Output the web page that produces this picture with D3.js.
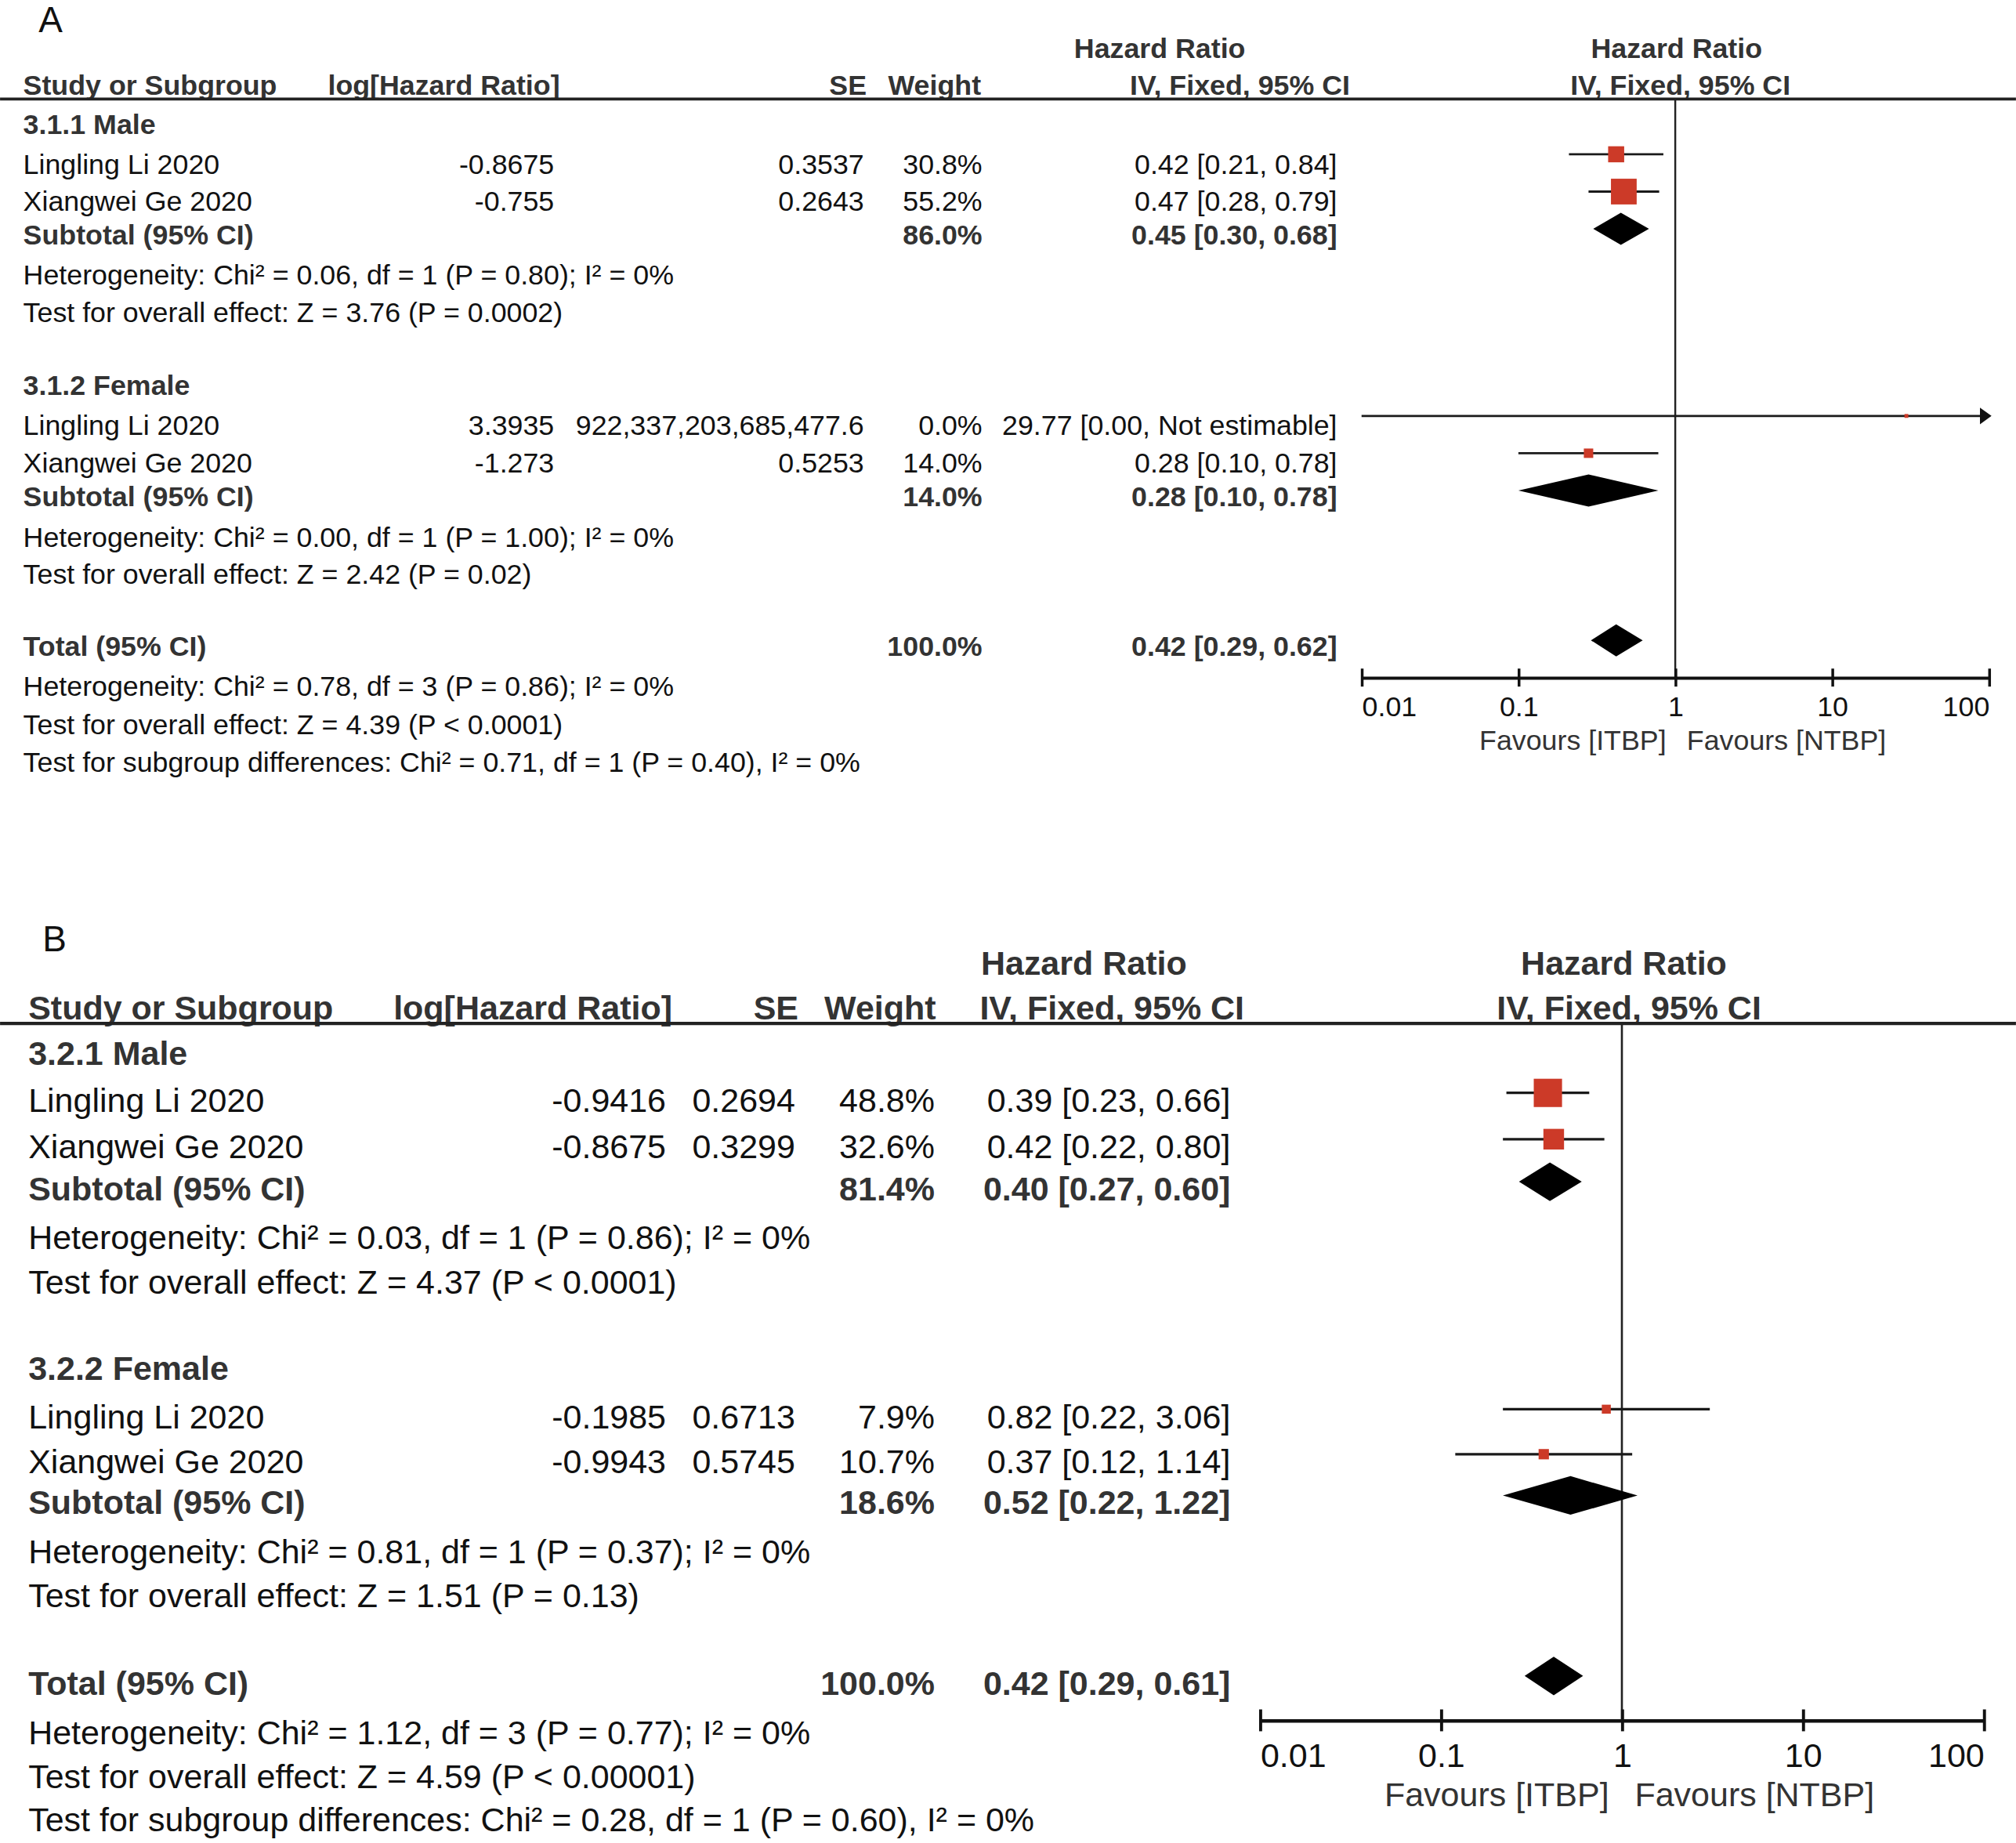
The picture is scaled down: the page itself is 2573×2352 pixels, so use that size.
<!DOCTYPE html>
<html>
<head>
<meta charset="utf-8">
<script src="https://cdn.jsdelivr.net/npm/d3@7"></script>
<style>
body { margin: 0; background: #fff; }
</style>
</head>
<body>
<div id="chart"></div>
<script>
// shared labels
var ticks = [0.01, 0.1, 1, 10, 100];
var tickLabels = ["0.01", "0.1", "1", "10", "100"];
var favours = ["Favours [ITBP]", "Favours [NTBP]"];
var headers = ["Study or Subgroup", "log[Hazard Ratio]", "SE", "Weight", "Hazard Ratio", "IV, Fixed, 95% CI"];

// panel A
var aGroups = ["3.1.1 Male", "3.1.2 Female"];
var aStudies = ["Lingling Li 2020", "Xiangwei Ge 2020", "Lingling Li 2020", "Xiangwei Ge 2020"];
var aStudyGroup = [0, 0, 1, 1];
var aLogHR = ["-0.8675", "-0.755", "3.3935", "-1.273"];
var aSE = ["0.3537", "0.2643", "922,337,203,685,477.6", "0.5253"];
var aWeight = [30.8, 55.2, 0.0, 14.0];
var aHR = [0.42, 0.47, 29.77, 0.28];
var aLow = [0.21, 0.28, 0.00, 0.10];
var aHigh = [0.84, 0.79, Infinity, 0.78]; // Infinity = not estimable
var aSubWeight = [86.0, 14.0];
var aSubHR = [0.45, 0.28];
var aSubLow = [0.30, 0.10];
var aSubHigh = [0.68, 0.78];
var aTotal = [0.42, 0.29, 0.62];
var aSubStats = [
    ["Heterogeneity: Chi² = 0.06, df = 1 (P = 0.80); I² = 0%", "Test for overall effect: Z = 3.76 (P = 0.0002)"],
    ["Heterogeneity: Chi² = 0.00, df = 1 (P = 1.00); I² = 0%", "Test for overall effect: Z = 2.42 (P = 0.02)"]
];
var aTotalStats = [
    "Heterogeneity: Chi² = 0.78, df = 3 (P = 0.86); I² = 0%",
    "Test for overall effect: Z = 4.39 (P < 0.0001)",
    "Test for subgroup differences: Chi² = 0.71, df = 1 (P = 0.40), I² = 0%"
];

// panel B
var bGroups = ["3.2.1 Male", "3.2.2 Female"];
var bStudies = ["Lingling Li 2020", "Xiangwei Ge 2020", "Lingling Li 2020", "Xiangwei Ge 2020"];
var bStudyGroup = [0, 0, 1, 1];
var bLogHR = ["-0.9416", "-0.8675", "-0.1985", "-0.9943"];
var bSE = ["0.2694", "0.3299", "0.6713", "0.5745"];
var bWeight = [48.8, 32.6, 7.9, 10.7];
var bHR = [0.39, 0.42, 0.82, 0.37];
var bLow = [0.23, 0.22, 0.22, 0.12];
var bHigh = [0.66, 0.80, 3.06, 1.14];
var bSubWeight = [81.4, 18.6];
var bSubHR = [0.40, 0.52];
var bSubLow = [0.27, 0.22];
var bSubHigh = [0.60, 1.22];
var bTotal = [0.42, 0.29, 0.61];
var bSubStats = [
    ["Heterogeneity: Chi² = 0.03, df = 1 (P = 0.86); I² = 0%", "Test for overall effect: Z = 4.37 (P < 0.0001)"],
    ["Heterogeneity: Chi² = 0.81, df = 1 (P = 0.37); I² = 0%", "Test for overall effect: Z = 1.51 (P = 0.13)"]
];
var bTotalStats = [
    "Heterogeneity: Chi² = 1.12, df = 3 (P = 0.77); I² = 0%",
    "Test for overall effect: Z = 4.59 (P < 0.00001)",
    "Test for subgroup differences: Chi² = 0.28, df = 1 (P = 0.60), I² = 0%"
];

var W = 1568, H = 1433.4;
var svg = d3.select("#chart")
    .append("svg")
    .attr("width", 2573)
    .attr("height", 2352)
    .attr("viewBox", "0 0 " + W + " " + H)
    .attr("font-family", "'Liberation Sans', Arial, Helvetica, sans-serif");

var f2 = d3.format(".2f"), f1 = d3.format(".1f");
function ciText(hr, lo, hi) {
    return f2(hr) + " [" + f2(lo) + ", " + (isFinite(hi) ? f2(hi) : "Not estimable") + "]";
}

function drawPanel(L, d) {
    var g = svg.append("g");
    var fs = L.fs;

    function txt(x, y, s, anchor, bold) {
        return g.append("text")
            .attr("x", x).attr("y", y)
            .attr("text-anchor", anchor || "start")
            .attr("font-size", fs)
            .attr("font-weight", bold ? "bold" : "normal")
            .attr("fill", bold ? "#333" : "#111")
            .text(s);
    }

    g.append("text")
        .attr("x", L.labelX).attr("y", L.labelY)
        .attr("font-size", L.labelSize)
        .attr("fill", "#111")
        .text(L.label);

    // header
    txt(L.hrHeadX, L.headY1, headers[4], "middle", true);
    txt(L.plotHeadX, L.headY1, headers[4], "middle", true);
    txt(L.colStudy, L.headY2, headers[0], "start", true);
    txt(L.colLogHead, L.headY2, headers[1], "start", true);
    txt(L.colSEHead, L.headY2, headers[2], "end", true);
    txt(L.colWeightHead, L.headY2, headers[3], "end", true);
    txt(L.colCIHead, L.headY2, headers[5], L.ciHeadAnchor, true);
    txt(L.plotHeadX2, L.headY2, headers[5], "middle", true);

    g.append("line")
        .attr("x1", 0).attr("x2", W)
        .attr("y1", L.ruleY).attr("y2", L.ruleY)
        .attr("stroke", "#222").attr("stroke-width", L.ruleW);

    var x = d3.scaleLog().domain([ticks[0], ticks[ticks.length - 1]]).range(L.plotX);
    var size = d3.scaleLinear().domain([0, d3.max(d.weight)]).range(L.sizeRange);
    function xc(v) { return x(Math.min(Math.max(v, ticks[0]), ticks[ticks.length - 1])); }

    // line of no effect
    g.append("line")
        .attr("x1", x(1)).attr("x2", x(1))
        .attr("y1", L.ruleY).attr("y2", L.axisY)
        .attr("stroke", "#222").attr("stroke-width", L.vW);

    // subgroups
    d.groups.forEach(function (name, k) {
        txt(L.colStudy, L.groupY[k], name, "start", true);
        txt(L.colStudy, L.subY[k], "Subtotal (95% CI)", "start", true);
        txt(L.colWeight, L.subY[k], f1(d.subWeight[k]) + "%", "end", true);
        txt(L.colCI, L.subY[k], ciText(d.subHR[k], d.subLow[k], d.subHigh[k]), "end", true);
        txt(L.colStudy, L.statY[k][0], d.subStats[k][0]);
        txt(L.colStudy, L.statY[k][1], d.subStats[k][1]);
    });

    // study rows
    d.studies.forEach(function (name, i) {
        var y = L.studyY[i];
        txt(L.colStudy, y, name);
        txt(L.colLog, y, d.logHR[i], "end");
        txt(L.colSE, y, d.se[i], "end");
        txt(L.colWeight, y, f1(d.weight[i]) + "%", "end");
        txt(L.colCI, y, ciText(d.hr[i], d.low[i], d.high[i]), "end");
    });

    // total
    txt(L.colStudy, L.totalY, "Total (95% CI)", "start", true);
    txt(L.colWeight, L.totalY, "100.0%", "end", true);
    txt(L.colCI, L.totalY, ciText(d.total[0], d.total[1], d.total[2]), "end", true);
    d.totalStats.forEach(function (s, j) { txt(L.colStudy, L.totalStatY[j], s); });

    // CI lines + squares
    var studyData = d.studies.map(function (s, i) {
        return { hr: d.hr[i], lo: d.low[i], hi: d.high[i], w: d.weight[i], cy: L.studyY[i] - L.markOff };
    });
    var max = ticks[ticks.length - 1];
    g.selectAll(".ci").data(studyData).enter()
        .append("line")
        .attr("x1", function (s) { return xc(s.lo); })
        .attr("x2", function (s) { return s.hi > max ? x(max) - 4 : xc(s.hi); })
        .attr("y1", function (s) { return s.cy; })
        .attr("y2", function (s) { return s.cy; })
        .attr("stroke", "#1a1a1a").attr("stroke-width", L.ciW);
    g.selectAll(".arrow").data(studyData.filter(function (s) { return s.hi > max; })).enter()
        .append("path")
        .attr("d", function (s) {
            var tip = x(max) + 2;
            return "M" + (tip - 9) + "," + (s.cy - 6.5) + "L" + tip + "," + s.cy + "L" + (tip - 9) + "," + (s.cy + 6.5) + "Z";
        })
        .attr("fill", "#111");
    g.selectAll(".sq").data(studyData).enter()
        .append("rect")
        .attr("x", function (s) { return x(s.hr) - size(s.w) / 2; })
        .attr("y", function (s) { return s.cy - size(s.w) / 2; })
        .attr("width", function (s) { return size(s.w); })
        .attr("height", function (s) { return size(s.w); })
        .attr("fill", "#cc3a28");

    // diamonds
    var dia = d.subHR.map(function (h, k) {
        return { hr: h, lo: d.subLow[k], hi: d.subHigh[k], cy: L.subY[k] - L.diaOff };
    });
    dia.push({ hr: d.total[0], lo: d.total[1], hi: d.total[2], cy: L.totalY - L.diaOff });
    g.selectAll(".dia").data(dia).enter()
        .append("path")
        .attr("d", function (s) {
            return "M" + x(s.lo) + "," + s.cy + "L" + x(s.hr) + "," + (s.cy - L.diaH) +
                "L" + x(s.hi) + "," + s.cy + "L" + x(s.hr) + "," + (s.cy + L.diaH) + "Z";
        })
        .attr("fill", "#000");

    // axis
    var axis = d3.axisBottom(x)
        .tickValues(ticks)
        .tickFormat(function (t, i) { return tickLabels[i]; })
        .tickSize(L.tickLen)
        .tickSizeOuter(0);
    var ag = g.append("g")
        .attr("transform", "translate(0," + L.axisY + ")")
        .call(axis)
        .attr("font-family", null)
        .attr("font-size", null);
    ag.select(".domain").attr("stroke", "#111").attr("stroke-width", L.axisW);
    ag.selectAll(".tick line")
        .attr("y1", -L.tickLen).attr("y2", L.tickLen)
        .attr("stroke", "#111").attr("stroke-width", L.axisW * 0.85);
    ag.selectAll(".tick text")
        .attr("y", L.tickLabelDy).attr("dy", 0)
        .attr("font-size", fs)
        .attr("fill", "#111")
        .attr("text-anchor", function (t, i) { return i === 0 ? "start" : (i === ticks.length - 1 ? "end" : "middle"); });

    g.append("text")
        .attr("x", x(1) - L.favGapL).attr("y", L.favY)
        .attr("text-anchor", "end").attr("font-size", fs).attr("fill", "#333")
        .text(favours[0]);
    g.append("text")
        .attr("x", x(1) + L.favGapR).attr("y", L.favY)
        .attr("text-anchor", "start").attr("font-size", fs).attr("fill", "#333")
        .text(favours[1]);
}

drawPanel({
    label: "A", labelX: 30, labelY: 25, labelSize: 28, fs: 21.8,
    headY1: 45, headY2: 74, ruleY: 77,
    colStudy: 18, colLogHead: 255, colLog: 431, colSEHead: 674, colSE: 672,
    colWeightHead: 763, colWeight: 764, colCIHead: 1050, ciHeadAnchor: "end", colCI: 1040,
    hrHeadX: 902, plotX: [1059, 1547], plotHeadX: 1304, plotHeadX2: 1307,
    groupY: [104, 307], studyY: [135, 164, 338.5, 367.5], subY: [190, 393.5],
    statY: [[221, 250.5], [425.5, 454]], totalY: 510, totalStatY: [541, 571, 600.5],
    axisY: 527, tickLabelDy: 30, favY: 583, favGapL: 7, favGapR: 9,
    markOff: 15, diaOff: 12, diaH: 12.5, sizeRange: [3, 20],
    ciW: 1.7, ruleW: 2.4, axisW: 2.5, vW: 1.5, tickLen: 7
}, {
    groups: aGroups, studies: aStudies, logHR: aLogHR, se: aSE, weight: aWeight,
    hr: aHR, low: aLow, high: aHigh, subWeight: aSubWeight, subHR: aSubHR,
    subLow: aSubLow, subHigh: aSubHigh, total: aTotal, subStats: aSubStats, totalStats: aTotalStats
});

drawPanel({
    label: "B", labelX: 33, labelY: 740, labelSize: 28, fs: 26.2,
    headY1: 758, headY2: 793, ruleY: 796,
    colStudy: 22, colLogHead: 306, colLog: 518, colSEHead: 621, colSE: 618.5,
    colWeightHead: 728, colWeight: 727, colCIHead: 762, ciHeadAnchor: "start", colCI: 957,
    hrHeadX: 843, plotX: [980, 1543], plotHeadX: 1263, plotHeadX2: 1267,
    groupY: [828, 1073.5], studyY: [865, 901, 1111, 1146], subY: [933.6, 1177.6],
    statY: [[971.4, 1006], [1216, 1250]], totalY: 1318, totalStatY: [1356.6, 1390.5, 1424.4],
    axisY: 1338, tickLabelDy: 36, favY: 1405, favGapL: 10, favGapR: 10,
    markOff: 15, diaOff: 14.5, diaH: 15, sizeRange: [4.1, 22],
    ciW: 2.0, ruleW: 2.6, axisW: 2.8, vW: 1.6, tickLen: 8.5
}, {
    groups: bGroups, studies: bStudies, logHR: bLogHR, se: bSE, weight: bWeight,
    hr: bHR, low: bLow, high: bHigh, subWeight: bSubWeight, subHR: bSubHR,
    subLow: bSubLow, subHigh: bSubHigh, total: bTotal, subStats: bSubStats, totalStats: bTotalStats
});
</script>
</body>
</html>
